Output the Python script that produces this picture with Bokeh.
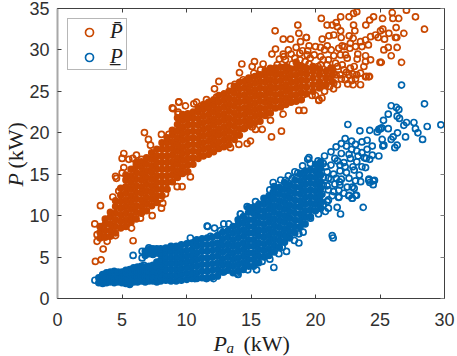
from bokeh.plotting import figure
from bokeh.models import Label, Legend, LegendItem, LinearAxis, Range1d, FixedTicker
from bokeh.embed import file_html
from bokeh.resources import INLINE

x_ticks = [0, 5, 10, 15, 20, 25, 30]
y_ticks = [0, 5, 10, 15, 20, 25, 30, 35]

# upper series: scattered edge points
upper_edge = [
 (27.05,34.8),(27.75,34.0),(28.45,32.5),(25.95,34.5),(26.45,33.8),(26.0,33.8),(26.25,32.7),(25.2,33.8),(24.5,34.0),(24.2,33.6),
 (23.9,33.0),(23.2,34.6),(22.95,34.4),(22.6,34.0),(21.95,34.0),(20.45,33.8),(20.9,33.0),(21.3,33.0),(21.6,33.3),(21.7,32.8),
 (21.95,32.3),(22.95,33.0),(23.05,32.3),(22.61,31.7),(22.92,31.4),(23.49,31.0),(23.88,31.2),(24.27,31.6),(24.65,31.8),(25.04,32.3),
 (25.22,32.5),(25.69,32.0),(25.35,31.3),(24.86,31.5),(26.2,31.5),(26.3,31.5),(26.85,32.0),(26.33,30.3),(25.64,30.3),(25.3,30.0),
 (25.87,29.3),(26.67,28.5),(25.0,28.5),(25.1,28.5),(24.27,28.8),(23.88,29.3),(23.28,29.5),(23.23,28.9),(23.75,28.0),(23.93,26.8),
 (24.19,26.8),(23.49,27.2),(22.92,25.8),(23.49,25.8),(21.42,26.0),(21.04,31.7),(21.42,31.8),(20.52,31.3),(21.99,31.5),(22.07,30.5),
 (20.39,30.3),(20.91,30.5),(21.22,30.0),(21.42,29.3),(19.3,31.5),(19.5,30.5),(22.46,29.0),(21.8,30.2),(22.33,29.4),(22.7,30.8),
 (23.1,30.4),(23.6,30.4),(24.1,30.6),(22.66,30.2),(22.25,30.4),(21.94,29.4),(23.88,28.6),(22.2,27.6),(22.6,27.0),(21.9,27.0),
 (21.2,27.8),(21.4,27.2),(22.3,26.4),(23.1,26.5),(22.7,27.8),(22.07,28.2),(21.55,28.4),(20.9,28.2),(20.4,28.2),(19.9,27.8),
 (20.4,29.2),(19.9,29.4),(19.36,29.4),(20.0,24.5),(20.5,24.2),(20.26,23.9),(19.74,24.5),(20.8,25.8),(19.05,24.6),(18.63,33.0),
 (16.87,32.3),(18.71,32.0),(17.5,31.3),(18.06,31.3),(18.84,31.0),(19.28,31.5),(16.62,29.5),(17.5,29.5),(18.11,29.5),(18.79,29.6),
 (17.67,28.8),(14.29,28.3),(15.27,28.6),(15.09,28.0),(15.94,28.3),(14.11,27.25),(12.51,26.2),(12.17,25.3),(11.55,24.0),(12.33,24.3),
 (9.41,23.7),(9.92,23.25),(8.97,22.9),(10.57,23.5),(10.78,23.7),(11.09,23.2),(13.75,25.85),(13.41,25.6),(13.02,24.5),(14.83,26.6),
 (14.39,26.4),(15.74,27.6),(15.22,27.2),(17.03,28.2),(16.9,27.8),(17.55,29.2),(17.49,22.25),(18.71,22.7),(19.1,22.7),(16.51,21.5),
 (15.87,20.4),(15.35,20.4),(15.09,20.7),(17.36,20.2),(14.5,20.5),(16.59,19.5),(14.7,18.7),(14.06,18.6),(14.96,19.0),(13.41,18.2),
 (20.26,24.0),(24.13,26.75),(23.88,26.75),(9.4,23.74),(8.9,23.0),(9.35,22.5),(9.35,22.25),(6.74,20.03),(7.05,19.2),(8.06,19.8),
 (8.63,19.8),(7.21,18.5),(5.14,17.5),(5.01,16.9),(6.12,17.3),(5.84,16.9),(5.53,16.8),(6.51,16.8),(5.14,15.8),(5.01,15.15),
 (4.5,14.75),(4.57,14.5),(4.75,12.97),(4.29,12.25),(9.28,13.5),(9.66,13.5),(8.37,12.65),(7.98,12.05),(2.89,9.0),(3.33,11.2),
 (2.94,4.47),(3.38,4.67),(3.54,5.96),(5.86,6.97),(5.74,8.5),(7.34,10.0),(6.43,9.7),(8.06,10.9),(8.16,11.5),(10.3,14.67),
 (6.6,10.5),(3.07,6.9),(3.85,6.9),(4.5,7.6),(3.07,7.7),
 (20.0,27.5),(20.3,26.0),(20.6,27.2),(20.9,26.6),(21.2,27.4),(21.1,25.6),(21.6,27.0),(21.7,25.8),(22.0,26.5),(21.4,25.3),
 (20.7,25.0),(22.4,27.3),(22.8,26.3),(22.5,25.9),(23.2,27.0),(21.0,28.8),(20.6,28.8),(20.2,28.0),(19.6,29.0),(19.2,28.6),
 (18.8,28.8),(18.4,29.0),(21.7,28.0),(22.9,27.1),(23.0,28.0),(20.7,30.0),(20.0,30.4),(19.4,29.9),(18.5,30.3),(17.9,30.0),
 (16.9,30.1),(17.2,28.9),(18.2,28.3),(19.5,28.3),(19.0,29.9),
]
# upper series: the dense band, read column by column
upper_band_x = [3.3,3.7,4.1,4.5,4.9,5.3,5.7,6.1,6.5,6.9,7.3,7.7,8.1,8.5,8.9,9.3,9.7,10.1,10.5,10.9,11.3,11.7,12.1,12.5,12.9,13.3,13.7,14.1,14.5,14.9,15.3,15.7,16.1,16.5,16.9,17.3,17.7,18.1,18.5,18.9,19.3,19.8,20.3,20.8,21.3]
upper_band_y = [
 [7.3,8.0,8.7],[7.4,8.2,9.0,9.6],[7.5,8.2,9.0,9.8,10.4],[7.9,8.7,9.5,10.3,11.1,11.8],[8.5,9.3,10.1,10.9,11.7,12.5,13.3],
 [8.7,9.5,10.3,11.1,11.9,12.7,13.5,14.3,14.9],[9.2,10.0,10.8,11.6,12.4,13.2,14.0,14.8,15.6],[9.6,10.4,11.2,12.0,12.8,13.6,14.4,15.2,16.0,16.4],
 [10.3,11.1,11.9,12.7,13.5,14.3,15.1,15.9,16.5],[10.6,11.4,12.2,13.0,13.8,14.6,15.4,16.2,17.0],[11.2,12.0,12.8,13.6,14.4,15.2,16.0,16.8,17.6],
 [11.6,12.4,13.2,14.0,14.8,15.6,16.4,17.2,18.0],[12.4,13.2,14.0,14.8,15.6,16.4,17.2,18.0,18.8],[13.2,14.0,14.8,15.6,16.4,17.2,18.0,18.8,19.4],
 [14.1,14.9,15.7,16.5,17.3,18.1,18.9,19.7,20.3],[14.6,15.4,16.2,17.0,17.8,18.6,19.4,20.2,21.0,21.8],[15.1,15.9,16.7,17.5,18.3,19.1,19.9,20.7,21.5,22.2],
 [15.3,16.1,16.9,17.7,18.5,19.3,20.1,20.9,21.7,22.3],[16.2,17.0,17.8,18.6,19.4,20.2,21.0,21.8,22.5],[16.9,17.7,18.5,19.3,20.1,20.9,21.7,22.5,23.0],
 [17.2,18.0,18.8,19.6,20.4,21.2,22.0,22.8,23.4],[17.4,18.2,19.0,19.8,20.6,21.4,22.2,23.0,23.7],[17.7,18.5,19.3,20.1,20.9,21.7,22.5,23.3,24.0],
 [18.1,18.9,19.7,20.5,21.3,22.1,22.9,23.7,24.5],[18.3,19.1,19.9,20.7,21.5,22.3,23.1,23.9,24.7],[18.6,19.4,20.2,21.0,21.8,22.6,23.4,24.2,25.0],
 [19.2,20.0,20.8,21.6,22.4,23.2,24.0,24.8,25.6],[19.7,20.5,21.3,22.1,22.9,23.7,24.5,25.3,26.1],[20.6,21.4,22.2,23.0,23.8,24.6,25.4,26.2],
 [20.9,21.7,22.5,23.3,24.1,24.9,25.7,26.5],[21.2,22.0,22.8,23.6,24.4,25.2,26.0,26.8],[21.4,22.2,23.0,23.8,24.6,25.4,26.2,27.0],
 [22.1,22.9,23.7,24.5,25.3,26.1,26.9,27.5],[22.4,23.2,24.0,24.8,25.6,26.4,27.2,27.8],[23.0,23.8,24.6,25.4,26.2,27.0,27.7],
 [23.1,23.9,24.7,25.5,26.3,27.1,27.9],[23.4,24.2,25.0,25.8,26.6,27.4,28.0],[23.7,24.5,25.3,26.1,26.9,27.7],
 [23.8,24.6,25.4,26.2,27.0,27.8,28.5],[24.0,24.8,25.6,26.4,27.2,28.0],[24.7,25.5,26.3,27.1,27.8],
 [25.0,25.8,26.6,27.4,28.0],[25.4,26.2,27.0,27.7],[25.8,26.6,27.4],[26.2,27.0,27.7],
]

# lower series: scattered edge points
lower_edge = [
 (26.67,25.76),(28.45,23.5),(25.87,23.26),(26.28,23.06),(26.46,22.8),(25.64,22.25),(26.33,22.0),(26.51,21.73),(25.27,21.5),(27.06,21.24),
 (26.85,20.9),(27.63,21.24),(27.75,20.5),(27.94,20.0),(28.3,19.2),(28.66,20.76),(29.72,20.96),(26.98,19.5),(26.36,20.0),(25.64,20.5),
 (24.91,20.4),(25.04,20.5),(25.15,20.6),(24.78,20.1),(24.21,20.3),(23.44,20.24),(22.51,21.0),(25.17,19.2),(26.02,19.5),(25.87,19.2),
 (26.33,18.5),(26.15,18.2),(25.3,18.5),(25.22,18.4),(24.91,17.2),(24.4,17.3),(23.93,16.9),(19.49,17.0),(24.47,14.2),(24.14,14.4),
 (24.21,14.0),(23.88,15.8),(23.1,12.45),(22.6,12.45),(22.85,12.1),(22.85,13.45),(22.46,13.45),(21.86,14.07),(21.81,12.25),(21.81,13.05),
 (23.7,11.0),(21.3,7.6),(21.37,7.3),(16.77,3.74),(14.75,3.46),(13.93,3.06),(14.0,2.9),(15.43,3.46),(15.86,4.47),(16.46,4.75),
 (17.16,5.4),(17.75,5.68),(17.42,6.2),(18.71,6.7),(18.37,7.0),(19.04,8.0),(18.71,7.8),(17.54,7.3),(18.06,8.5),(19.61,9.7),
 (20.23,10.2),(20.77,10.5),(21.68,11.0),(21.94,10.2),(20.9,11.7),(21.8,12.2),(23.18,12.45),(22.84,12.1),(22.58,12.4),(24.47,13.74),
 (24.13,14.27),(24.57,14.27),(16.72,14.0),(16.46,13.1),(16.72,12.8),(15.35,11.7),(14.7,11.1),(14.18,10.2),(5.86,5.2),(6.7,4.0),
 (6.56,5.7),(7.08,6.1),(6.56,4.9),(10.3,7.3),(11.65,8.7),(12.17,8.5),(12.64,8.2),(12.89,9.0),(13.28,9.0),(11.86,7.5),
 (11.6,8.75),(14.19,10.2),(14.96,10.72),(17.67,14.27),(18.19,14.47),(18.63,15.16),(19.1,15.16),(19.74,15.0),(20.26,14.67),(12.9,3.2),
 (12.1,2.4),(11.55,2.4),(10.65,2.4),(2.9,2.2),(19.0,16.0),(19.6,16.3),(20.2,16.6),(20.7,17.2),(21.2,17.7),(21.6,18.3),
 (22.0,18.7),(22.3,19.3),(22.8,19.0),(23.1,18.6),(23.6,18.9),(24.0,19.1),(24.4,18.4),(24.0,18.0),(23.6,17.6),(23.2,17.8),
 (22.8,18.0),(22.4,18.4),(22.0,17.5),(21.7,16.6),(22.2,16.4),(22.7,16.9),(23.2,16.5),(23.6,15.9),(23.0,15.5),(22.4,15.2),
 (21.9,15.4),(21.4,15.0),(21.0,14.5),(21.5,13.8),(22.0,14.4),(22.6,14.5),(23.1,14.2),(23.4,14.9),(21.2,16.1),(20.8,15.9),
 (21.0,13.1),(20.6,13.7),(20.5,12.6),(21.3,12.4),(20.0,11.1),(20.4,11.5),
 (20.6,16.3),(20.9,15.3),(21.2,14.4),(20.6,14.6),(21.0,11.9),(21.4,12.9),(21.9,13.7),(22.2,12.7),(22.3,15.9),(22.9,15.9),
 (22.6,17.4),(23.3,17.2),(23.8,17.0),(24.2,16.8),(21.5,16.9),(21.9,16.1),(20.9,13.6),(21.6,14.5),(23.0,13.3),(23.5,14.1),
 (19.4,16.8),(19.9,15.6),(18.4,15.3),(17.9,14.8),(17.3,14.3),(16.8,13.5),(21.0,10.9),(20.3,12.0),(20.6,11.3),
]
# lower series: the dense band, read column by column
lower_band_x = [3.2,3.5,3.8,4.1,4.4,4.7,5.0,5.3,5.6,5.9,6.2,6.5,6.8,7.1,7.4,7.7,8.0,8.4,8.8,9.2,9.6,10.0,10.4,10.8,11.2,11.6,12.0,12.4,12.8,13.2,13.6,14.0,14.4,14.8,15.2,15.6,16.0,16.4,16.8,17.2,17.6,18.0,18.4,18.8,19.2,19.6,20.0,20.4]
lower_band_y = [
 [1.9,2.5],[1.8,2.4,2.9],[1.9,2.5,3.1],[2.0,2.6,3.2],[1.9,2.5,3.3],[2.0,2.6,3.2],[1.9,2.5,3.2],[1.8,2.4,3.1,3.4],
 [1.7,2.3,2.9,3.5],[2.0,2.6,3.2,3.7],[2.0,2.6,3.2,3.8],[2.1,2.7,3.3,3.9],[2.0,2.6,3.2,3.8,5.2,5.7],[2.1,2.7,3.3,3.9,5.4,5.9],[2.1,2.7,3.3,4.0,5.3,6.0],
 [2.0,2.6,3.2,3.9,4.4,5.5,6.0],[2.1,2.7,3.3,4.0,4.6,5.3,6.0],[2.2,2.8,3.5,4.2,4.9,5.6,6.1],[2.1,2.8,3.5,4.2,4.9,5.6,6.3],[2.1,2.8,3.5,4.2,4.9,5.6,6.3],
 [2.2,2.9,3.6,4.3,5.0,5.7,6.5],[2.3,3.0,3.7,4.4,5.1,5.8,6.6],[2.4,3.1,3.8,4.5,5.2,5.9,6.7],[2.4,3.1,3.9,4.7,5.5,6.3,7.1],[2.5,3.3,4.1,4.9,5.7,6.5,7.2],
 [2.5,3.3,4.1,4.9,5.7,6.5,7.3],[2.6,3.4,4.2,5.0,5.8,6.6,7.4],[2.7,3.5,4.3,5.1,5.9,6.7,7.6],[3.2,4.0,4.8,5.6,6.4,7.2,8.0],[3.4,4.2,5.0,5.8,6.6,7.4,8.2],
 [3.1,3.9,4.7,5.5,6.3,7.1,7.9,8.7],[3.3,4.1,4.9,5.7,6.5,7.3,8.1,8.9,9.5],[3.5,4.3,5.1,5.9,6.7,7.5,8.3,9.1,9.9],[3.9,4.7,5.5,6.3,7.1,7.9,8.7,9.5,10.4,11.0],
 [3.9,4.7,5.5,6.3,7.1,7.9,8.7,9.5,10.3,11.0],[4.3,5.1,5.9,6.7,7.5,8.3,9.1,9.9,10.7,11.4],[5.0,5.8,6.6,7.4,8.2,9.0,9.8,10.6,11.4,12.1],[5.2,6.0,6.8,7.6,8.4,9.2,10.0,10.8,11.6,12.4],
 [5.6,6.4,7.2,8.0,8.8,9.6,10.4,11.2,12.0,12.8,13.4],[6.2,7.0,7.8,8.6,9.4,10.2,11.0,11.8,12.6,13.4],[6.8,7.6,8.4,9.2,10.0,10.8,11.6,12.4,13.2,14.0],[7.3,8.1,8.9,9.7,10.5,11.3,12.1,12.9,13.7],
 [7.9,8.7,9.5,10.3,11.1,11.9,12.7,13.5,14.3],[8.6,9.4,10.2,11.0,11.8,12.6,13.4,14.2,15.0],[9.0,9.8,10.6,11.4,12.2,13.0,13.8,14.6,15.4],[9.9,10.7,11.5,12.3,13.1,13.9,14.7,15.5],
 [10.6,11.4,12.2,13.0,13.8,14.6,15.4,16.2],[10.9,11.7,12.5,13.3,14.1,14.9,15.7,16.5],
]

upper_band_xs, upper_band_ys = [], []
for cx, ys in zip(upper_band_x, upper_band_y):
    upper_band_xs += [cx] * len(ys)
    upper_band_ys += ys
lower_band_xs, lower_band_ys = [], []
for cx, ys in zip(lower_band_x, lower_band_y):
    lower_band_xs += [cx] * len(ys)
    lower_band_ys += ys

ORANGE = "#C94800"
BLUE = "#0065AE"
DARK = "#404040"
PAGE_CORNER = {"position": "absolute", "left": "0px", "top": "0px"}

p = figure(width=457, height=356, output_backend="svg", toolbar_location=None,
           x_range=Range1d(0, 30), y_range=Range1d(0, 35),
           min_border_left=57, min_border_right=13, min_border_top=8, min_border_bottom=58,
           background_fill_color="white", border_fill_color="white", styles=PAGE_CORNER)
p.grid.visible = False
p.outline_line_color = DARK
p.outline_line_width = 1

ring = dict(marker="circle", line_width=1.7)
r_up = p.scatter([a for a, _ in upper_edge], [b for _, b in upper_edge], size=6, fill_color=None, line_color=ORANGE, **ring)
p.scatter(upper_band_xs, upper_band_ys, size=5.8, fill_color=ORANGE, line_color=ORANGE, **ring)
r_lo = p.scatter([a for a, _ in lower_edge], [b for _, b in lower_edge], size=6, fill_color=None, line_color=BLUE, **ring)
p.scatter(lower_band_xs, lower_band_ys, size=5.8, fill_color=BLUE, line_color=BLUE, **ring)

for ax, ticks in ((p.xaxis[0], x_ticks), (p.yaxis[0], y_ticks)):
    ax.ticker = FixedTicker(ticks=ticks)
    ax.major_tick_in = 4
    ax.major_tick_out = 0
    ax.minor_tick_line_color = None
    ax.major_tick_line_color = DARK
    ax.major_label_text_font = "Liberation Sans"
    ax.major_label_text_font_size = "18px"
    ax.major_label_text_color = "#303030"
p.xaxis[0].axis_line_color = DARK
p.xaxis[0].major_label_standoff = 14
p.yaxis[0].axis_line_color = "#a8a8a8"
p.yaxis[0].axis_line_width = 2
p.yaxis[0].major_label_standoff = 8

top = LinearAxis(ticker=FixedTicker(ticks=x_ticks), major_tick_in=4, major_tick_out=0,
                 minor_tick_line_color=None, major_label_text_font_size="0px",
                 major_label_standoff=0, major_tick_line_color=DARK, axis_line_color=DARK)
right = LinearAxis(ticker=FixedTicker(ticks=y_ticks), major_tick_in=4, major_tick_out=0,
                   minor_tick_line_color=None, major_label_text_font_size="0px",
                   major_label_standoff=0, major_tick_line_color="#808080", axis_line_color=DARK)
p.add_layout(top, "above")
p.add_layout(right, "right")

legend = Legend(items=[LegendItem(label="P\u0304", renderers=[r_up]),
                       LegendItem(label="P\u0332", renderers=[r_lo])],
                location="top_left", orientation="vertical",
                label_text_font="Liberation Serif", label_text_font_style="italic",
                label_text_font_size="21px", label_text_color="#202020",
                border_line_color="#707070", border_line_width=1,
                background_fill_color="white", background_fill_alpha=1,
                glyph_width=42, glyph_height=20, label_height=20, label_width=16, spacing=-11, padding=0,
                margin=10, label_standoff=0)
p.add_layout(legend, "center")

# transparent figure over the page that carries the axis titles
q = figure(width=457, height=356, output_backend="svg", toolbar_location=None,
           x_range=Range1d(0, 457), y_range=Range1d(356, 0), x_axis_type=None, y_axis_type=None,
           min_border=0, background_fill_color=None, border_fill_color=None, outline_line_color=None,
           styles=dict(PAGE_CORNER, **{"pointer-events": "none"}))
q.grid.visible = False

def txt(s, x, y, size, style="normal", angle=0):
    q.add_layout(Label(x=x, y=y, text=s, angle=angle,
                       text_font="Liberation Serif", text_font_size=size, text_font_style=style,
                       text_color="#202020", text_baseline="alphabetic"))

# x axis title
txt("P", 213, 343, "22px", "italic")
txt("a", 226, 347, "15px", "italic")
txt("(kW)", 243, 343, "22px")
# y axis title (rotated)
txt("P", 15, 186, "22px", "italic", 1.5708)
txt("(kW)", 15, 168, "22px", "normal", 1.5708)

open("out.html", "w").write(file_html((p, q), INLINE))
